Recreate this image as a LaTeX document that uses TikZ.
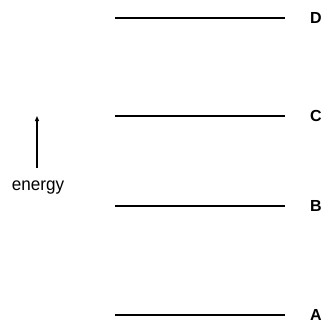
\documentclass[tikz,border=0pt]{standalone}
\usepackage{fontspec}
\setmainfont{Liberation Sans}
\usetikzlibrary{arrows.meta}
\usetikzlibrary{positioning}

\begin{document}
\begin{tikzpicture}[
    x=1pt, y=-1pt,
    level/.style={line width=1.4pt},
    lab/.style={font=\fontsize{16}{18}\selectfont\bfseries},
    >={Stealth[length=5pt, width=4pt, inset=0pt]}
]
\useasboundingbox (0,0) rectangle (326,325);

% --- Energy levels and labels ---
\foreach \n/\y in {A/315,B/206,C/116,D/18}
{
    \coordinate (l\n) at (115,\y);
    \coordinate (r\n) at (285,\y);
    \draw[level] (l\n) -- (r\n);
    \node[lab] (\n) at (316,\y) {\n};
}

% --- Energy arrow ---
\coordinate (low) at (37,168);
\coordinate (high) at (37,116);
\draw[->, line width=1.3pt] (low) -- (high);
\node[font=\fontsize{18}{20}\selectfont, xscale=0.95] (energy) at (38,188) {energy};

\end{tikzpicture}
\end{document}
